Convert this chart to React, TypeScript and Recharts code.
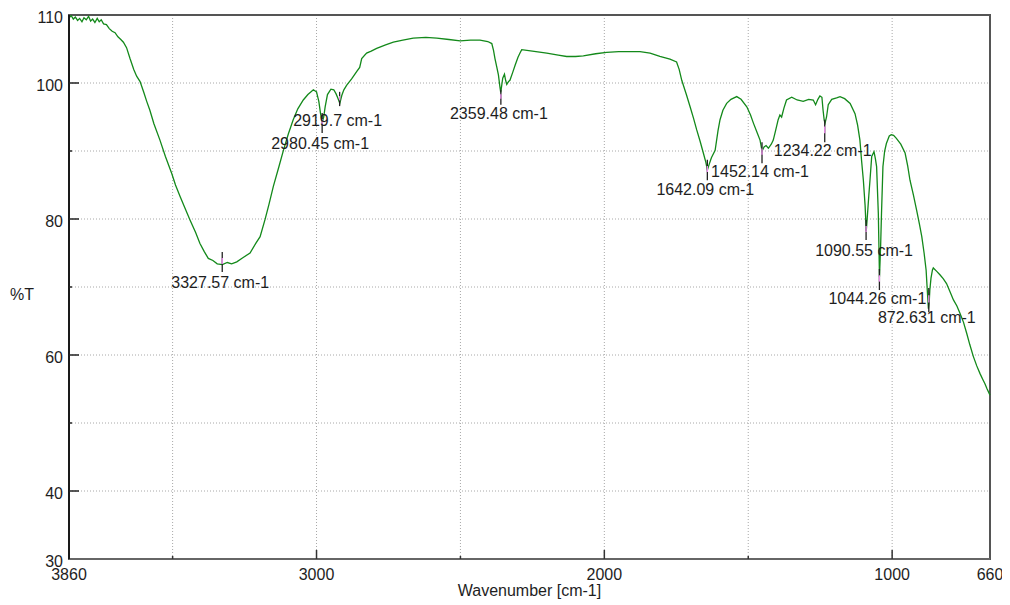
import React from "react";
import {
  LineChart,
  Line,
  XAxis,
  YAxis,
  CartesianGrid,
  ReferenceLine,
  ReferenceDot,
  ReferenceArea,
  Label,
} from "recharts";

// ---- Spectrum data (wavenumber cm-1 / %T) ----
const WAVENUMBERS = [
  3860, 3852, 3845, 3838, 3830, 3823, 3815, 3808, 3800, 3792, 3785, 3778, 3770, 3762, 3755, 3748,
  3740, 3730, 3720, 3710, 3700, 3690, 3680, 3671, 3660, 3648, 3635, 3625, 3613, 3600, 3590, 3579,
  3565, 3544, 3525, 3503, 3490, 3474, 3455, 3440, 3420, 3405, 3390, 3376, 3360, 3345, 3327, 3310,
  3295, 3277, 3260, 3231, 3210, 3196, 3179, 3165, 3150, 3130, 3115, 3098, 3081, 3065, 3046, 3030,
  3011, 3000, 2992, 2986, 2980, 2975, 2970, 2962, 2950, 2940, 2932, 2926, 2919, 2912, 2905, 2895,
  2878, 2860, 2850, 2843, 2826, 2810, 2791, 2760, 2733, 2700, 2664, 2620, 2582, 2540, 2501, 2465,
  2432, 2405, 2391, 2385, 2380, 2374, 2368, 2363, 2360, 2356, 2353, 2347, 2343, 2339, 2333, 2328,
  2318, 2310, 2300, 2293, 2287, 2250, 2200, 2160, 2131, 2100, 2073, 2030, 1992, 1950, 1911, 1876,
  1841, 1807, 1772, 1749, 1740, 1731, 1715, 1702, 1690, 1679, 1667, 1656, 1647, 1642, 1636, 1628,
  1615, 1605, 1598, 1588, 1575, 1560, 1540, 1525, 1505, 1492, 1482, 1470, 1459, 1452, 1445, 1438,
  1430, 1420, 1413, 1405, 1396, 1390, 1384, 1376, 1367, 1349, 1330, 1309, 1290, 1274, 1266, 1258,
  1251, 1244, 1240, 1236, 1233, 1228, 1222, 1210, 1193, 1181, 1165, 1146, 1129, 1120, 1112, 1106,
  1100, 1094, 1090, 1086, 1081, 1077, 1071, 1063, 1058, 1054, 1048, 1044, 1040, 1037, 1032, 1026,
  1020, 1010, 1003, 995, 986, 970, 955, 946, 938, 926, 915, 905, 897, 889, 882, 878,
  874, 871, 869, 865, 860, 857, 845, 834, 822, 811, 800, 787, 775, 764, 752, 741,
  730, 718, 706, 695, 685, 678, 670, 660,
];

const TRANSMITTANCE = [
  109.6, 109.9, 109.4, 109.7, 109.2, 109.5, 109.0, 109.6, 109.3, 109.8, 109.1, 109.4, 108.9, 109.5, 109.0, 109.3,
  108.7, 108.6, 108.0, 107.6, 107.4, 106.8, 106.4, 106.0, 105.2, 103.6, 102.0, 101.0, 100.2, 98.6, 97.3, 96.0,
  94.0, 91.6, 89.2, 86.7, 85.0, 83.3, 81.4, 79.9, 78.0, 76.4, 75.2, 74.2, 73.9, 73.4, 73.3, 73.6,
  73.4, 73.7, 74.2, 75.0, 76.5, 77.4, 79.9, 82.2, 84.8, 87.8, 90.1, 92.5, 94.6, 96.2, 97.5, 98.3,
  99.0, 98.7, 97.3, 95.5, 94.3, 95.0, 96.5, 98.3, 99.1, 99.0, 98.4, 97.8, 97.0, 98.2, 99.0, 99.7,
  100.6, 101.7, 102.3, 103.6, 104.4, 104.7, 105.1, 105.6, 106.0, 106.3, 106.6, 106.7, 106.6, 106.4, 106.2, 106.3,
  106.3, 106.1, 105.8, 104.8, 103.6, 102.4, 101.2, 99.5, 98.6, 99.8, 100.7, 101.3, 100.4, 99.8, 100.2, 100.4,
  101.6, 102.6, 103.8, 104.4, 104.9, 104.7, 104.4, 104.1, 103.9, 103.9, 104.0, 104.3, 104.5, 104.6, 104.6, 104.6,
  104.4, 103.9, 103.5, 103.1, 102.0, 100.4, 98.3, 96.5, 94.8, 93.1, 91.4, 89.7, 88.3, 87.2, 88.0, 89.0,
  90.1, 93.0, 94.6, 96.0, 97.0, 97.6, 98.0, 97.6, 96.5, 95.3, 94.1, 92.8, 91.6, 90.0, 90.6, 90.8,
  90.4, 91.0, 91.6, 93.0, 94.6, 95.3, 95.0, 96.3, 97.5, 97.9, 97.5, 97.3, 97.6, 97.5, 96.8, 97.6,
  98.1, 97.9, 96.0, 94.5, 94.1, 95.0, 96.8, 97.6, 97.8, 98.0, 97.7, 97.0, 95.5, 93.8, 91.6, 88.5,
  85.7, 82.0, 78.2, 80.5, 83.5, 85.7, 89.2, 89.9, 88.8, 87.7, 80.8, 71.5, 76.0, 80.8, 87.7, 90.0,
  91.1, 92.2, 92.4, 92.3, 91.9, 91.0, 89.7, 87.8, 85.7, 83.5, 81.3, 79.2, 77.4, 75.0, 72.5, 69.6,
  66.8, 68.0, 69.6, 71.3, 72.5, 72.8, 72.3, 71.8, 71.2, 70.5, 69.4, 68.1, 67.2, 66.1, 64.8, 63.2,
  61.5, 59.8, 58.4, 57.3, 56.4, 55.8, 55.0, 54.1,
];

// ---- Axis ticks ----
const X_TICKS = [3860, 3500, 3000, 2500, 2000, 1500, 1000, 660];
const X_LABELS = [3860, 3000, 2000, 1000, 660];
const X_MAJOR = [3000, 2000, 1000];
const Y_TICKS = [30, 40, 50, 60, 70, 80, 90, 100, 110];
const Y_LABELS = [30, 40, 60, 80, 100, 110];
const Y_MAJOR = [40, 60, 80, 100];

// ---- Peak annotations ----
const PEAK_WAVENUMBERS = [3327.57, 2980.45, 2919.7, 2359.48, 1642.09, 1452.14, 1234.22, 1090.55, 1044.26, 872.631];
const PEAK_TEXTS = [
  "3327.57 cm-1",
  "2980.45 cm-1",
  "2919.7 cm-1",
  "2359.48 cm-1",
  "1642.09 cm-1",
  "1452.14 cm-1",
  "1234.22 cm-1",
  "1090.55 cm-1",
  "1044.26 cm-1",
  "872.631 cm-1",
];
const MARKER_TOP = [75.15, 95.6, 98.7, 99.0, 88.7, 91.3, 94.6, 79.85, 72.65, 69.85];
const MARKER_BOTTOM = [72.2, 92.65, 96.6, 96.8, 85.7, 88.2, 91.3, 76.9, 69.55, 66.3];
const LABEL_BASELINE = [69.85, 90.3, 93.7, 94.7, 83.5, 86.2, 89.3, 74.55, 67.5, 64.7];

const data = WAVENUMBERS.map((w, i) => ({ w, t: TRANSMITTANCE[i] }));

const FONT = "'Liberation Sans', Arial, sans-serif";
const TEXT_COLOR = "#1e1e1e";

const XTick = (props: any) => {
  const { x, y, payload } = props;
  const v = payload.value;
  const isEdge = v === 3860 || v === 660;
  const len = X_MAJOR.includes(v) ? 9 : 3;
  return (
    <g>
      {!isEdge && (
        <line x1={x} x2={x} y1={y} y2={y - len} stroke="#333" strokeWidth={1.5} />
      )}
      {X_LABELS.includes(v) && (
        <text x={x} y={y + 21} textAnchor="middle" fontSize={16} fontFamily={FONT} fill={TEXT_COLOR}>
          {v}
        </text>
      )}
    </g>
  );
};

const YTick = (props: any) => {
  const { x, y, payload } = props;
  const v = payload.value;
  const isEdge = v === 30 || v === 110;
  const len = Y_MAJOR.includes(v) ? 10 : 3;
  return (
    <g>
      {!isEdge && (
        <line x1={x} x2={x + len} y1={y} y2={y} stroke="#222" strokeWidth={1.5} />
      )}
      {Y_LABELS.includes(v) && (
        <text x={x - 6} y={y + 8} textAnchor="end" fontSize={16} fontFamily={FONT} fill={TEXT_COLOR}>
          {v}
        </text>
      )}
    </g>
  );
};

export default function App() {
  return (
    <div style={{ width: 994, height: 595 }}>
      <LineChart
        width={994}
        height={595}
        data={data}
        margin={{ top: 7, right: 12, left: 0, bottom: 0 }}
      >
        <CartesianGrid stroke="#a8a8a8" strokeDasharray="1 2" />
        <ReferenceArea
          x1={660}
          x2={3860}
          y1={30}
          y2={110}
          fill="none"
          stroke="#555"
          strokeWidth={2}
          ifOverflow="visible"
        />
        <XAxis
          dataKey="w"
          type="number"
          domain={[660, 3860]}
          reversed
          ticks={X_TICKS}
          interval={0}
          tickSize={0}
          tickMargin={0}
          height={44}
          axisLine={{ stroke: "#666", strokeWidth: 2 }}
          tickLine={false}
          tick={<XTick />}
        >
          <Label
            content={(p: any) => {
              const vb = p.viewBox;
              return (
                <text
                  x={vb.x + vb.width / 2}
                  y={vb.y + 37}
                  textAnchor="middle"
                  fontSize={16}
                  fontFamily={FONT}
                  fill={TEXT_COLOR}
                >
                  Wavenumber [cm-1]
                </text>
              );
            }}
          />
        </XAxis>
        <YAxis
          type="number"
          domain={[30, 110]}
          ticks={Y_TICKS}
          interval={0}
          tickSize={0}
          tickMargin={0}
          width={61}
          axisLine={{ stroke: "#1a1a1a", strokeWidth: 2 }}
          tickLine={false}
          tick={<YTick />}
        >
          <Label
            content={(p: any) => {
              const vb = p.viewBox;
              return (
                <text
                  x={2}
                  y={vb.y + vb.height / 2 + 13}
                  textAnchor="start"
                  fontSize={16}
                  fontFamily={FONT}
                  fill={TEXT_COLOR}
                >
                  %T
                </text>
              );
            }}
          />
        </YAxis>
        <Line
          type="linear"
          dataKey="t"
          stroke="#13891a"
          strokeWidth={1.3}
          dot={false}
          isAnimationActive={false}
        />
        {PEAK_WAVENUMBERS.map((w, i) => (
          <ReferenceLine
            key={"m" + i}
            segment={[
              { x: w, y: MARKER_TOP[i] },
              { x: w, y: MARKER_BOTTOM[i] },
            ]}
            stroke="#222"
            strokeWidth={1.3}
          />
        ))}
        {PEAK_WAVENUMBERS.map((w, i) => (
          <ReferenceLine
            key={"p" + i}
            segment={[
              { x: w, y: MARKER_TOP[i] - (MARKER_TOP[i] - MARKER_BOTTOM[i]) * 0.3 },
              { x: w, y: MARKER_TOP[i] - (MARKER_TOP[i] - MARKER_BOTTOM[i]) * 0.6 },
            ]}
            stroke="#f08ef0"
            strokeWidth={1.3}
          />
        ))}
        {PEAK_WAVENUMBERS.map((w, i) => (
          <ReferenceDot
            key={"t" + i}
            x={w}
            y={LABEL_BASELINE[i]}
            r={0}
            shape={(p: any) => (
              <text
                x={p.cx - 2}
                y={p.cy}
                textAnchor="middle"
                fontSize={16}
                fontFamily={FONT}
                fill={TEXT_COLOR}
              >
                {PEAK_TEXTS[i]}
              </text>
            )}
          />
        ))}
      </LineChart>
    </div>
  );
}
